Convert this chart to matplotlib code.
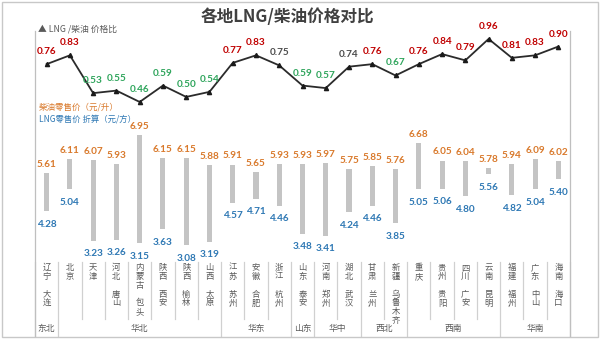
import matplotlib
matplotlib.use("Agg")
import matplotlib.pyplot as plt
import matplotlib.transforms as mtransforms
from matplotlib.patches import Rectangle

plt.rcParams['font.family'] = ['Noto Sans CJK SC', 'DejaVu Sans']

# ---------------- data ----------------
cities = ["辽\n宁\n\n大\n连", "北\n京", "天\n津", "河\n北\n\n唐\n山", "内\n蒙\n古\n\n包\n头",
          "陕\n西\n\n西\n安", "陕\n西\n\n榆\n林", "山\n西\n\n太\n原", "江\n苏\n\n苏\n州",
          "安\n徽\n\n合\n肥", "浙\n江\n\n杭\n州", "山\n东\n\n泰\n安", "河\n南\n\n郑\n州",
          "湖\n北\n\n武\n汉", "甘\n肃\n\n兰\n州", "新\n疆\n\n乌\n鲁\n木\n齐", "重\n庆",
          "贵\n州\n\n贵\n阳", "四\n川\n\n广\n安", "云\n南\n\n昆\n明", "福\n建\n\n福\n州",
          "广\n东\n\n中\n山", "海\n南\n\n海\n口"]
ratio = [0.76, 0.83, 0.53, 0.55, 0.46, 0.59, 0.50, 0.54, 0.77, 0.83, 0.75, 0.59,
         0.57, 0.74, 0.76, 0.67, 0.76, 0.84, 0.79, 0.96, 0.81, 0.83, 0.90]
diesel = [5.61, 6.11, 6.07, 5.93, 6.95, 6.15, 6.15, 5.88, 5.91, 5.65, 5.93, 5.93,
          5.97, 5.75, 5.85, 5.76, 6.68, 6.05, 6.04, 5.78, 5.94, 6.09, 6.02]
lng = [4.28, 5.04, 3.23, 3.26, 3.15, 3.63, 3.08, 3.19, 4.57, 4.71, 4.46, 3.48,
       3.41, 4.24, 4.46, 3.85, 5.05, 5.06, 4.80, 5.56, 4.82, 5.04, 5.40]
regions = ["东北", "华北", "华东", "山东", "华中", "西北", "西南", "华南"]
region_sizes = [1, 7, 3, 1, 2, 2, 4, 3]

W, H = 600, 339
fig = plt.figure(figsize=(W / 100, H / 100), dpi=100)
fig.patch.set_facecolor('white')

def fx(px):
    return px / W

def fy(px):
    return 1 - px / H

# plot area: x 35..570 px, y 30..262 px
ax = fig.add_axes([fx(35), fy(262), fx(570) - fx(35), fy(30) - fy(262)])
ax2 = ax.twinx()
n = len(cities)
x = list(range(n))
for a in (ax, ax2):
    a.set_xlim(-0.5, n - 0.5)
    a.set_xticks([])
    a.set_yticks([])
    for s in a.spines.values():
        s.set_visible(False)
    a.patch.set_alpha(0)
ax.set_ylim(2.478, 10.647)
ax2.set_ylim(-0.810, 1.031)

# floating bars (LNG -> diesel)
heights = [d - l for d, l in zip(diesel, lng)]
ax.bar(x, heights, bottom=lng, width=0.22, color='#C4C4C4', zorder=2)

num_font = dict(family=['Lato', 'DejaVu Sans'], fontweight='bold', fontsize=7.2)
for xi, d, l in zip(x, diesel, lng):
    ax.annotate(f"{d:.2f}", (xi, d), xytext=(0, 6.2), textcoords='offset points',
                ha='center', va='center', color='#D9792B', **num_font)
    ax.annotate(f"{l:.2f}", (xi, l), xytext=(0, -9.5), textcoords='offset points',
                ha='center', va='center', color='#2E78B4', **num_font)

# ratio line
ax2.plot(x, ratio, color='#2B2B2B', lw=1.3, marker='^', ms=3, mfc='#1a1a1a',
         mec='#1a1a1a', zorder=3)
for xi, r in zip(x, ratio):
    if r >= 0.76:
        c = '#C00000'
    elif r >= 0.70:
        c = '#4D4D4D'
    else:
        c = '#2FA55C'
    ax2.annotate(f"{r:.2f}", (xi, r), xytext=(0, 9), textcoords='offset points',
                 ha='center', va='center', color=c, **num_font)

# category labels and table
trans = mtransforms.blended_transform_factory(ax.transData, fig.transFigure)
for xi, name in zip(x, cities):
    ax.text(xi, fy(263), name, transform=trans, ha='center', va='top',
            fontsize=6, color='#595959', linespacing=0.98, clip_on=False)

boundaries = [0]
for s in region_sizes:
    boundaries.append(boundaries[-1] + s)
for b in range(n + 1):
    xb = b - 0.5
    full = b in boundaries
    ax.plot([xb, xb], [fy(262), fy(336 if full else 319)], transform=trans,
            color='#D0D0D0', lw=0.9, clip_on=False)
for name, s, e in zip(regions, boundaries[:-1], boundaries[1:]):
    ax.text((s + e - 1) / 2, fy(328), name, transform=trans, ha='center',
            va='center', fontsize=6.3, color='#595959', clip_on=False)

# plot frame side lines
fig.add_artist(plt.Line2D([fx(35), fx(35)], [fy(31), fy(336)], color='#BFBFBF', lw=0.9))
fig.add_artist(plt.Line2D([fx(570), fx(570)], [fy(31), fy(336)], color='#BFBFBF', lw=0.9))
# outer border
fig.add_artist(Rectangle((fx(2), fy(337)), fx(596), fy(2) - fy(337), fill=False,
                         edgecolor='#C8C8C8', lw=1.0, transform=fig.transFigure))

# titles / legend texts
fig.text(fx(287), fy(17), "各地LNG/柴油价格对比", ha='center', va='center',
         fontsize=12, fontweight='bold', color='#404040')
fig.text(fx(38), fy(29), "▲ LNG /柴油 价格比", ha='left', va='center',
         fontsize=6.3, color='#595959')
fig.text(fx(39), fy(107), "柴油零售价（元/升）", ha='left', va='center',
         fontsize=6.1, color='#D9792B')
fig.text(fx(39), fy(119.5), "LNG零售价 折算（元/方）", ha='left', va='center',
         fontsize=6.0, color='#2E78B4')

fig.savefig("out.png", dpi=100)
